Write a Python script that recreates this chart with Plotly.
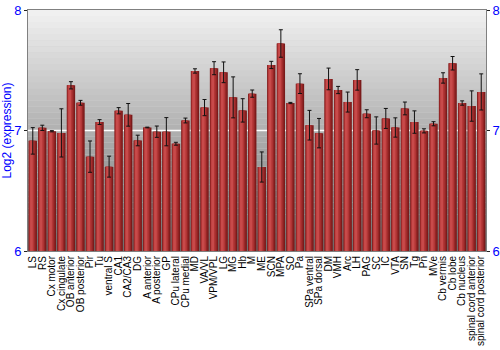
import plotly.graph_objects as go

regions = ["LS", "RS", "Cx motor", "Cx cingulate", "OB anterior", "OB posterior", "Pir", "Tu",
           "ventral S", "CA1", "CA2/CA3", "DG", "A anterior", "A posterior", "GP", "CPu lateral",
           "CPu medial", "MD", "VA/VL", "VPM/VPL", "LG", "MG", "Hb", "M", "ME", "SCN", "MPA", "SO",
           "Pa", "SPa ventral", "SPa dorsal", "DM", "VMH", "Arc", "LH", "PAG", "SC", "IC", "VTA",
           "SN", "Tg", "Pn", "MVe", "Cb vermis", "Cb lobe", "Cb nucleus", "spinal cord anterior",
           "spinal cord posterior"]
expression = [6.914, 7.022, 6.994, 6.98, 7.375, 7.23, 6.783, 7.07,
              6.70, 7.164, 7.13, 6.917, 7.025, 6.99, 6.99, 6.89,
              7.083, 7.494, 7.19, 7.517, 7.483, 7.275, 7.167, 7.306, 6.697, 7.544, 7.722, 7.228,
              7.389, 7.044, 6.978, 7.428, 7.336, 7.236, 7.42, 7.139, 7.0, 7.1, 7.025,
              7.183, 7.07, 6.997, 7.056, 7.436, 7.558, 7.228, 7.203, 7.32]
error = [0.11, 0.022, 0.005, 0.2, 0.03, 0.02, 0.13, 0.02,
         0.087, 0.026, 0.094, 0.044, 0.003, 0.047, 0.117, 0.012,
         0.02, 0.018, 0.067, 0.054, 0.086, 0.17, 0.097, 0.03, 0.125, 0.03, 0.114, 0.005,
         0.082, 0.123, 0.122, 0.09, 0.03, 0.083, 0.085, 0.033, 0.113, 0.083, 0.08,
         0.053, 0.093, 0.017, 0.017, 0.043, 0.056, 0.018, 0.126, 0.15]
y_ticks = [6, 7, 8]
y_range = [6, 8]

fig = go.Figure()
# bar with simulated horizontal gradient (layers)
layers = [
    (0.88, -0.44, "#7a1b1b"),
    (0.70, -0.40, "#962626"),
    (0.50, -0.34, "#b23636"),
    (0.28, -0.28, "#c84a4a"),
]
for w, off, col in layers:
    fig.add_trace(go.Bar(x=regions, y=expression, base=0, width=w, offset=off,
                         marker=dict(color=col, line=dict(width=0)),
                         hoverinfo="skip", showlegend=False))
fig.add_trace(go.Scatter(x=regions, y=expression, mode="markers",
                         marker=dict(size=0.1, color="rgba(0,0,0,0)"),
                         error_y=dict(type="data", array=error, color="#111111",
                                      thickness=1, width=2),
                         showlegend=False))
fig.add_trace(go.Scatter(x=regions, y=expression, yaxis="y2", mode="markers",
                         marker=dict(opacity=0), showlegend=False, hoverinfo="skip"))

# gradient background
n = 40
shapes = []
top = (242, 242, 242)
bot = (110, 110, 110)
for i in range(n):
    t = (i + 0.5) / n
    c = tuple(int(round(bot[k] + (top[k] - bot[k]) * t)) for k in range(3))
    shapes.append(dict(type="rect", xref="x domain", yref="y domain",
                       x0=0, x1=1, y0=i / n, y1=(i + 1) / n,
                       fillcolor="rgb(%d,%d,%d)" % c, line=dict(width=0), layer="below"))
shapes.append(dict(type="line", xref="x domain", yref="y", x0=0, x1=1, y0=7, y1=7,
                   line=dict(color="white", width=1.5), layer="below"))

fig.update_layout(
    width=500, height=350,
    margin=dict(l=28, r=14, t=10, b=99),
    barmode="overlay",
    plot_bgcolor="#d0d0d0", paper_bgcolor="white",
    font=dict(family="Liberation Sans, Arial, sans-serif", size=11, color="black"),
    shapes=shapes,
    xaxis=dict(tickangle=-90, tickfont=dict(size=10, color="black"), showline=True,
               mirror=True, linecolor="#808080", ticks="", showgrid=False,
               tickmode="array", tickvals=regions, ticktext=regions, automargin=False,
               range=[-0.5, len(regions) - 0.5]),
    yaxis=dict(range=y_range, tickvals=y_ticks, tickfont=dict(size=13, color="blue"),
               title=dict(text="Log2 (expression)", font=dict(size=12, color="blue"), standoff=4),
               showline=True, linecolor="#808080", ticks="outside", ticklen=3,
               tickcolor="#222", showgrid=False, zeroline=False, automargin=False),
    yaxis2=dict(range=y_range, tickvals=y_ticks, tickfont=dict(size=13, color="blue"),
                overlaying="y", side="right", showline=True, linecolor="#808080",
                ticks="outside", ticklen=3, tickcolor="#222", showgrid=False, zeroline=False,
                automargin=False),
)
fig.write_html("out.html")
